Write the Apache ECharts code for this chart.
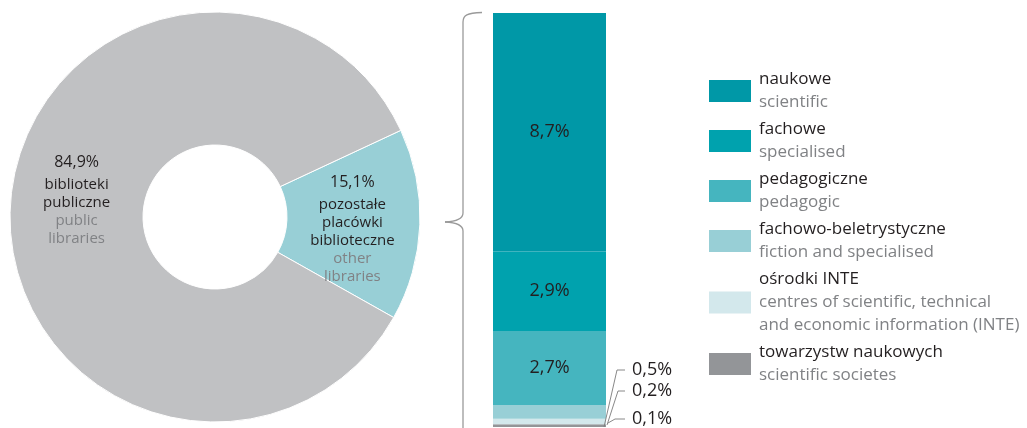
<!DOCTYPE html>
<html>
<head>
<meta charset="utf-8">
<script src="https://cdn.jsdelivr.net/npm/echarts@6/dist/echarts.min.js"></script>
<style>
html,body{margin:0;padding:0;background:#fff;}
#chart{width:1027px;height:428px;}
</style>
</head>
<body>
<div id="chart"></div>
<script>
// ---- data ----
const pieNamesPl = ['pozostałe placówki biblioteczne', 'biblioteki publiczne'];
const pieNamesEn = ['other libraries', 'public libraries'];
const pieValues = [15.1, 84.9];
const pieLabelsPl = [['pozostałe', 'placówki', 'biblioteczne'], ['biblioteki', 'publiczne']];
const pieLabelsEn = [['other', 'libraries'], ['public', 'libraries']];

const barNamesPl = ['naukowe', 'fachowe', 'pedagogiczne', 'fachowo-beletrystyczne', 'ośrodki INTE', 'towarzystw naukowych'];
const barNamesEn = ['scientific', 'specialised', 'pedagogic', 'fiction and specialised', 'centres of scientific, technical\nand economic information (INTE)', 'scientific societes'];
const barValues = [8.7, 2.9, 2.7, 0.5, 0.2, 0.1];

// ---- styles ----
const barColors = ['#0098A7', '#00A2AE', '#45B5BF', '#98CFD6', '#D3E8EC', '#939598'];
const pieColors = ['#98CFD6', '#C0C1C3'];
const DARK = '#231F20';
const GREY = '#808285';
const LEADER = '#7a7a7a';
const FONT = '"Open Sans", sans-serif';

const fmt = v => v.toFixed(1).replace('.', ',') + '%';
const total = barValues.reduce((a, b) => a + b, 0);

// text placement of the small outside labels and their leader geometry (offsets in px)
const smallIdx = [3, 4, 5];
const smallLabelY = { 3: 370, 4: 391, 5: 419 };
const leaderStart = { 3: [-2, 0], 4: [1, -2], 5: [2, -4] };
const leaderBendX = { 3: 11, 4: 12, 5: 9 };
const leaderEndX = 19;

const barSeries = barNamesPl.map((name, i) => {
  const small = i >= 3;
  const s = {
    type: 'bar',
    name: name,
    stack: 'total',
    barWidth: '100%',
    data: [barValues[i]],
    itemStyle: { color: barColors[i] },
    label: {
      show: true,
      position: small ? 'right' : 'inside',
      formatter: p => fmt(p.value),
      color: DARK,
      fontFamily: FONT,
      fontSize: 18
    },
    emphasis: { disabled: true }
  };
  if (small) {
    s.labelLayout = { x: 632, y: smallLabelY[i], align: 'left', verticalAlign: 'middle' };
  }
  return s;
}).reverse();

const leaderSeries = {
  type: 'custom',
  name: 'leaders',
  silent: true,
  clip: false,
  z: 5,
  data: smallIdx.map(i => [0, 0, i]),
  renderItem: (params, api) => {
    const i = api.value(2);
    const base = api.coord([0, 0]);
    const half = api.size([1, 0])[0] / 2;
    const right = base[0] + half;
    return {
      type: 'polyline',
      shape: {
        points: [
          [right + leaderStart[i][0], base[1] + leaderStart[i][1]],
          [right + leaderBendX[i], smallLabelY[i]],
          [right + leaderEndX, smallLabelY[i]]
        ]
      },
      style: { stroke: LEADER, lineWidth: 0.9, fill: null }
    };
  }
};

const pieData = pieValues.map((v, i) => ({
  name: pieNamesPl[i],
  value: v,
  itemStyle: { color: pieColors[i] },
  label: {
    formatter: '{p|' + fmt(v) + '}\n' +
      pieLabelsPl[i].map(t => '{a|' + t + '}').join('\n') + '\n' +
      pieLabelsEn[i].map(t => '{b|' + t + '}').join('\n')
  }
}));

const braceStyle = { stroke: '#9a9a9a', lineWidth: 1.3, fill: null };

const chart = echarts.init(document.getElementById('chart'), null, { renderer: 'canvas' });
chart.setOption({
  animation: false,
  backgroundColor: '#ffffff',
  grid: { left: 493, right: 421, top: 13, bottom: 1, containLabel: false },
  xAxis: { type: 'category', data: [''], show: false },
  yAxis: { type: 'value', min: 0, max: total, show: false },
  legend: {
    data: barNamesPl,
    orient: 'vertical',
    left: 704,
    top: 66,
    itemWidth: 42,
    itemHeight: 22,
    itemGap: 10,
    icon: 'rect',
    selectedMode: false,
    formatter: name => {
      const i = barNamesPl.indexOf(name);
      return '{a|' + name + '}\n' + barNamesEn[i].split('\n').map(t => '{b|' + t + '}').join('\n');
    },
    textStyle: {
      fontFamily: FONT,
      rich: {
        a: { color: DARK, fontSize: 17, lineHeight: 23, fontFamily: FONT, padding: [0, 0, 0, 3] },
        b: { color: GREY, fontSize: 17, lineHeight: 23, fontFamily: FONT, padding: [0, 0, 0, 3] }
      }
    }
  },
  series: [
    {
      type: 'pie',
      center: [215, 217],
      radius: [72, 205],
      startAngle: 25,
      clockwise: true,
      data: pieData,
      emphasis: { disabled: true },
      itemStyle: { borderColor: '#ffffff', borderWidth: 1 },
      label: {
        show: true,
        position: 'inside',
        align: 'center',
        fontFamily: FONT,
        rich: {
          p: { color: DARK, fontSize: 16, lineHeight: 26, fontFamily: FONT, align: 'center' },
          a: { color: DARK, fontSize: 15, lineHeight: 18, fontFamily: FONT, align: 'center' },
          b: { color: GREY, fontSize: 15, lineHeight: 18, fontFamily: FONT, align: 'center' }
        }
      },
      labelLayout: params => params.dataIndex === 1 ? { dx: 3, dy: -13 } : { dx: -4, dy: 5 }
    },
    ...barSeries,
    leaderSeries
  ],
  graphic: [
    { type: 'bezierCurve', shape: { x1: 482, y1: 12.5, cpx1: 467, cpy1: 13, cpx2: 463, cpy2: 15, x2: 463, y2: 22 }, style: braceStyle },
    { type: 'line', shape: { x1: 463, y1: 22, x2: 463, y2: 213 }, style: braceStyle },
    { type: 'bezierCurve', shape: { x1: 463, y1: 213, cpx1: 463, cpy1: 219, cpx2: 456, cpy2: 221.5, x2: 445, y2: 222 }, style: braceStyle },
    { type: 'bezierCurve', shape: { x1: 445, y1: 222, cpx1: 456, cpy1: 222.5, cpx2: 463, cpy2: 225, x2: 463, y2: 231 }, style: braceStyle },
    { type: 'line', shape: { x1: 463, y1: 231, x2: 463, y2: 428 }, style: braceStyle }
  ]
});
</script>
</body>
</html>
